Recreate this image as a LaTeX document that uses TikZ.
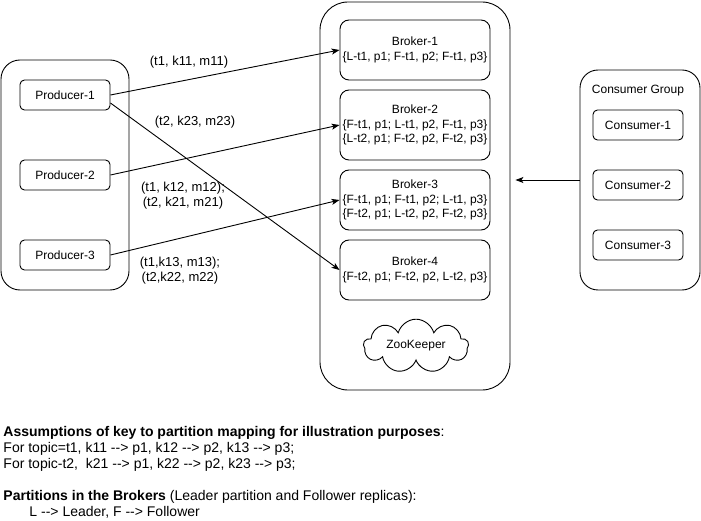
\documentclass[tikz,border=0pt]{standalone}
\usepackage{fontspec}
\setmainfont{Liberation Sans}
\usetikzlibrary{arrows.meta,shapes.symbols}
\newcommand{\keyto}{-\kern0pt-\kern0pt>}
\begin{document}
\begin{tikzpicture}[x=1pt, y=-1pt, line width=0.9pt,
  txt/.style={font=\fontsize{12}{14.4}\selectfont},
  box/.style={txt, draw, rounded corners=4.5pt, minimum width=90pt, minimum height=30pt, inner sep=1pt},
  brk/.style={txt, draw, rounded corners=9pt, minimum width=150pt, inner sep=1pt, align=center},
  grp/.style={draw, rounded corners=#1},
  lab/.style={font=\fontsize{13}{15}\selectfont, align=center},
  arr/.style={-{Stealth[length=8pt,width=6pt,inset=2pt]}}]
\useasboundingbox (0,0) rectangle (701,521);
\node[grp=19pt, minimum width=128pt, minimum height=230pt] (prodgrp) at (65,175){};
\node[box] (prod1) at (65,95){Producer-1};
\node[box] (prod2) at (65,175){Producer-2};
\node[box] (prod3) at (65,255){Producer-3};
\node[grp=28pt, minimum width=190pt, minimum height=388pt] (brkgrp) at (415,196){};
\node[brk, minimum height=60pt] (brk1) at (415,50){Broker-1\\\{L-t1, p1; F-t1, p2; F-t1, p3\}};
\node[brk, minimum height=70pt] (brk2) at (415,125){Broker-2\\\{F-t1, p1; L-t1, p2, F-t1, p3\}\\\{L-t2, p1; F-t2, p2, F-t2, p3\}};
\node[brk, minimum height=60pt] (brk3) at (415,200){Broker-3\\\{F-t1, p1; F-t1, p2; L-t1, p3\}\\\{F-t2, p1; L-t2, p2, F-t2, p3\}};
\node[brk, minimum height=60pt] (brk4) at (415,270){Broker-4\\\{F-t2, p1; F-t2, p2, L-t2, p3\}};
\node[txt, draw, cloud, cloud puffs=9, aspect=2.5, minimum width=105pt, minimum height=42pt, inner sep=0pt] (zk) at (416,346){ZooKeeper};
\node[grp=18pt, minimum width=120pt, minimum height=220pt] (cgrp) at (640,180){};
\node[txt] (cgrplab) at (638,91){Consumer Group};
\node[box] (cons1) at (638,125){Consumer-1};
\node[box] (cons2) at (638,185){Consumer-2};
\node[box] (cons3) at (638,245){Consumer-3};
\draw[arr](prod1.east) -- (brk1.west);
\draw[arr]([yshift=-8pt]prod1.east) -- (brk4.west);
\draw[arr](prod2.east) -- (brk2.west);
\draw[arr](prod3.east) -- (brk3.west);
\draw[arr](cgrp.west) -- ([xshift=5pt]brkgrp.east |- cgrp.west);
\node[lab] (lab1) at (189,62){(t1, k11, m11)};
\node[lab] (lab2) at (195,122){(t2, k23, m23)};
\node[lab] (lab3) at (183,196){(t1, k12, m12);\\(t2, k21, m21)};
\node[lab] (lab4) at (180,271){(t1,k13, m13);\\(t2,k22, m22)};
\node[font=\fontsize{14}{16}\selectfont, align=left, anchor=north west, inner sep=0pt] (notes) at (3,426){\textbf{Assumptions of key to partition mapping for illustration purposes}:\\
For topic=t1, k11 \keyto{} p1, k12 \keyto{} p2, k13 \keyto{} p3;\\
For topic-t2,\ \ k21 \keyto{} p1, k22 \keyto{} p2, k23 \keyto{} p3;\\[16pt]
\textbf{Partitions in the Brokers} (Leader partition and Follower replicas):\\
\hspace*{26pt}L \keyto{} Leader, F \keyto{} Follower};
\end{tikzpicture}
\end{document}
